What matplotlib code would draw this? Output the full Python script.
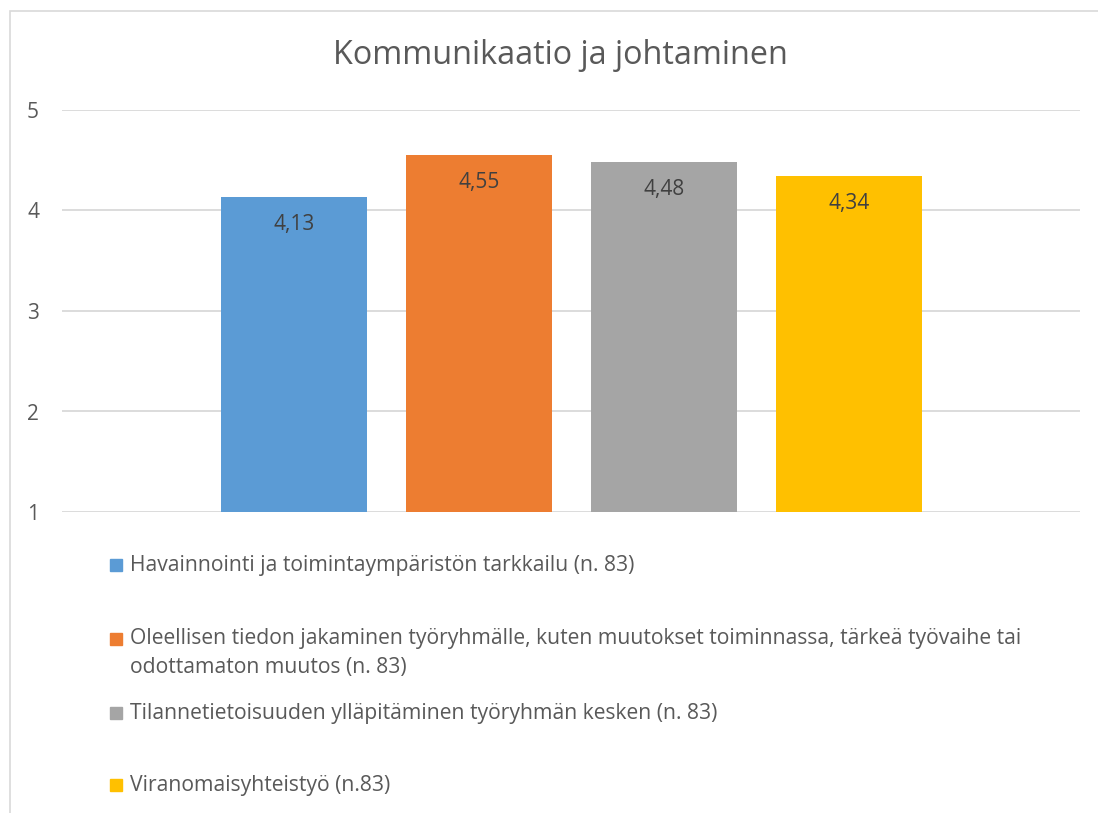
import matplotlib
matplotlib.use("Agg")
import matplotlib.pyplot as plt
from matplotlib.patches import Rectangle

title = "Kommunikaatio ja johtaminen"
series_labels = [
    "Havainnointi ja toimintaympäristön tarkkailu (n. 83)",
    "Oleellisen tiedon jakaminen työryhmälle, kuten muutokset toiminnassa, tärkeä työvaihe tai\nodottamaton muutos (n. 83)",
    "Tilannetietoisuuden ylläpitäminen työryhmän kesken (n. 83)",
    "Viranomaisyhteistyö (n.83)",
]
values = [4.13, 4.55, 4.48, 4.34]
value_labels = ["4,13", "4,55", "4,48", "4,34"]
colors = ["#5B9BD5", "#ED7D31", "#A5A5A5", "#FFC000"]
yticks = [1, 2, 3, 4, 5]

W, H = 1098, 813
plt.rcParams['font.family'] = ['Open Sans', 'DejaVu Sans']
fig = plt.figure(figsize=(W / 100, H / 100), dpi=100)

# outer chart border
fig.patches.append(Rectangle((10 / W, -0.1), 1.2, 1 - 11 / H + 0.1, transform=fig.transFigure,
                             fill=False, edgecolor="#d9d9d9", linewidth=1.2))

ax_l, ax_r, ax_t, ax_b = 62, 1080, 110, 512
ax = fig.add_axes([ax_l / W, 1 - ax_b / H, (ax_r - ax_l) / W, (ax_b - ax_t) / H])
ax.set_ylim(1, 5)
pitch = 185.0
first_center = 294.0
ax.set_xlim((ax_l - first_center) / pitch, (ax_r - first_center) / pitch)
xs = list(range(len(values)))
bar_w = 146 / pitch
ax.bar(xs, [v - 1 for v in values], bottom=1, width=bar_w, color=colors, zorder=3)
for x, v, lab in zip(xs, values, value_labels):
    ax.text(x, v - 0.27, lab, ha="center", va="center", fontsize=15, color="#404040", zorder=4)

ax.set_yticks(yticks)
ax.set_yticklabels([str(t) for t in yticks], fontsize=15, color="#595959")
ax.tick_params(axis="y", length=0, pad=16.5)
ax.set_xticks([])
ax.grid(axis="y", color="#d9d9d9", linewidth=1.3, zorder=0)
for s in ax.spines.values():
    s.set_visible(False)

fig.text(560 / W, 1 - 55 / H, title, ha="center", va="center", fontsize=23.3, color="#595959")

# legend
leg_y = [565, 653, 713, 785]
sq_y = [565, 639, 713, 785]
for lab, c, y, sy in zip(series_labels, colors, leg_y, sq_y):
    fig.patches.append(Rectangle((110 / W, 1 - (sy + 6) / H), 12 / W, 12 / H,
                                 transform=fig.transFigure, color=c))
    fig.text(130 / W, 1 - y / H, lab, ha="left", va="center", fontsize=15.2,
             color="#595959", linespacing=1.45)

fig.savefig("out.png", dpi=100)
